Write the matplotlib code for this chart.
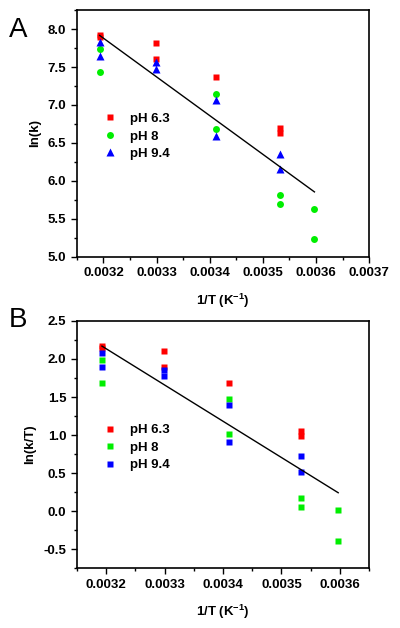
import numpy as np
import matplotlib
matplotlib.use("Agg")
import matplotlib.pyplot as plt
from matplotlib.ticker import MultipleLocator, AutoMinorLocator

# 1/T positions (K^-1)
x40 = 0.003193
x30 = 0.003299
x20 = 0.003411
x10 = 0.003533
x05 = 0.003597

# panel A: ln(k)
a_ph63_x = [x40, x40, x30, x30, x20, x10, x10]
a_ph63_y = [7.92, 7.89, 7.82, 7.60, 7.37, 6.70, 6.63]
a_ph8_x = [x40, x40, x20, x20, x10, x10, x05, x05]
a_ph8_y = [7.74, 7.44, 7.14, 6.69, 5.82, 5.69, 5.63, 5.24]
a_ph94_x = [x40, x40, x30, x30, x20, x20, x10, x10]
a_ph94_y = [7.83, 7.64, 7.57, 7.48, 7.07, 6.59, 6.36, 6.16]
a_fit = (24.20, -5100.0)  # intercept, slope

# panel B: ln(k/T)
b_ph63_x = [x40, x40, x30, x30, x20, x10, x10]
b_ph63_y = [2.17, 2.14, 2.10, 1.89, 1.69, 1.06, 0.99]
b_ph8_x = [x40, x40, x20, x20, x10, x10, x05, x05]
b_ph8_y = [1.99, 1.69, 1.47, 1.01, 0.18, 0.05, 0.01, -0.39]
b_ph94_x = [x40, x40, x30, x30, x20, x20, x10, x10]
b_ph94_y = [2.08, 1.89, 1.86, 1.77, 1.39, 0.91, 0.72, 0.52]
b_fit = (17.39, -4767.0)

fit_range = [x40, x05]
labels = ["pH 6.3", "pH 8", "pH 9.4"]

plt.rcParams['font.family'] = ['Liberation Sans', 'DejaVu Sans']
plt.rcParams['font.weight'] = 'bold'
plt.rcParams['mathtext.fontset'] = 'custom'
plt.rcParams['mathtext.bf'] = 'Liberation Sans:bold'
plt.rcParams['mathtext.rm'] = 'Liberation Sans:bold'

fig = plt.figure(figsize=(4.0, 6.28), dpi=100)
axA = fig.add_axes([0.192, 0.591, 0.731, 0.393])
axB = fig.add_axes([0.192, 0.095, 0.731, 0.394])

red = '#ff0000'
green = '#00ee00'
blue = '#0000ff'
fs = 9.5


def style(ax):
    for s in ax.spines.values():
        s.set_linewidth(1.2)
    ax.tick_params(which='both', direction='out', top=False, right=False,
                   labelsize=fs, width=1.0)
    ax.tick_params(which='major', length=4)
    ax.tick_params(which='minor', length=2.5)
    ax.xaxis.set_minor_locator(AutoMinorLocator(2))
    ax.yaxis.set_minor_locator(AutoMinorLocator(2))
    for t in ax.get_xticklabels() + ax.get_yticklabels():
        t.set_fontweight('bold')
    ax.set_xlabel("1/T (K$^{-1}$)", fontsize=fs, fontweight='bold', labelpad=9)


def legend(ax):
    ax.legend(loc='upper left', bbox_to_anchor=(0.06, 0.605), frameon=False,
              handletextpad=0.8, labelspacing=0.4, borderaxespad=0,
              handlelength=1.5, prop={'weight': 'bold', 'size': fs})


# panel A
axA.plot(a_ph63_x, a_ph63_y, 's', color=red, ms=4.5, mec='none', label=labels[0])
axA.plot(a_ph8_x, a_ph8_y, 'o', color=green, ms=5, mec='none', label=labels[1])
axA.plot(a_ph94_x, a_ph94_y, '^', color=blue, ms=5.5, mec='none', label=labels[2])
fx = np.array(fit_range)
axA.plot(fx, a_fit[0] + a_fit[1] * fx, color='black', lw=1.0)
axA.set_xlim(0.00315, 0.0037)
axA.set_ylim(5.0, 8.25)
axA.xaxis.set_major_locator(MultipleLocator(0.0001))
axA.yaxis.set_major_locator(MultipleLocator(0.5))
axA.xaxis.set_major_formatter(plt.FormatStrFormatter('%.4f'))
axA.yaxis.set_major_formatter(plt.FormatStrFormatter('%.1f'))
axA.set_ylabel("ln(k)", fontsize=fs, fontweight='bold', labelpad=5)
style(axA)
legend(axA)

# panel B
axB.plot(b_ph63_x, b_ph63_y, 's', color=red, ms=4.5, mec='none', label=labels[0])
axB.plot(b_ph8_x, b_ph8_y, 's', color=green, ms=4.5, mec='none', label=labels[1])
axB.plot(b_ph94_x, b_ph94_y, 's', color=blue, ms=4.5, mec='none', label=labels[2])
axB.plot(fx, b_fit[0] + b_fit[1] * fx, color='black', lw=1.0)
axB.set_xlim(0.00315, 0.00365)
axB.set_ylim(-0.75, 2.5)
axB.xaxis.set_major_locator(MultipleLocator(0.0001))
axB.yaxis.set_major_locator(MultipleLocator(0.5))
axB.xaxis.set_major_formatter(plt.FormatStrFormatter('%.4f'))
axB.yaxis.set_major_formatter(plt.FormatStrFormatter('%.1f'))
axB.set_ylabel("ln(k/T)", fontsize=fs, fontweight='bold', labelpad=5)
style(axB)
legend(axB)

fig.text(0.045, 0.953, "A", fontsize=20, fontweight='normal', ha='center', va='center')
fig.text(0.045, 0.490, "B", fontsize=20, fontweight='normal', ha='center', va='center')

fig.savefig("out.png", dpi=100)
